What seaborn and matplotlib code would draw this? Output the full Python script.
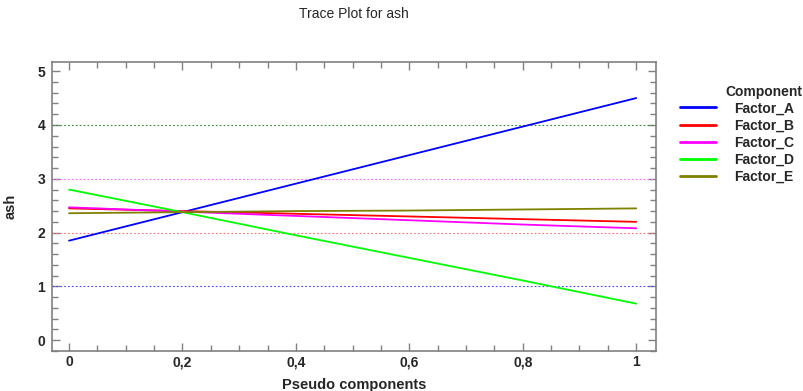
import numpy as np
import pandas as pd
import matplotlib
matplotlib.use("Agg")
import matplotlib.pyplot as plt
import seaborn as sns
from matplotlib.ticker import FuncFormatter, MultipleLocator

x_vals = [0.0, 0.2, 0.4, 0.6, 0.8, 1.0]
factor_a = [1.85, 2.38, 2.91, 3.44, 3.97, 4.50]
factor_b = [2.45, 2.40, 2.35, 2.30, 2.25, 2.20]
factor_c = [2.47, 2.39, 2.31, 2.23, 2.15, 2.08]
factor_d = [2.80, 2.38, 1.95, 1.53, 1.11, 0.68]
factor_e = [2.36, 2.38, 2.40, 2.41, 2.43, 2.45]
series_names = ["Factor_A", "Factor_B", "Factor_C", "Factor_D", "Factor_E"]
ref_levels = [4, 3, 2, 1]

colors = ["#0000ff", "#ff0000", "#ff00ff", "#00ff00", "#808000"]
ref_colors = ["#2e8b2e", "#ff66ff", "#ff7070", "#4444ff"]

rows = []
for name, vals in zip(series_names, [factor_a, factor_b, factor_c, factor_d, factor_e]):
    for xv, yv in zip(x_vals, vals):
        rows.append({"Pseudo components": xv, "ash": yv, "Component": name})
df = pd.DataFrame(rows)

sns.set_style("white")
plt.rcParams['font.family'] = ['Liberation Sans', 'DejaVu Sans']

fig = plt.figure(figsize=(8.04, 3.91), dpi=100)
ax = fig.add_axes([0.0647, 0.1023, 0.816 - 0.0647, 0.8414 - 0.1023])

for lvl, c in zip(ref_levels, ref_colors):
    ax.axhline(lvl, color=c, linestyle=(0, (1.5, 2)), linewidth=0.8, zorder=1)

sns.lineplot(data=df, x="Pseudo components", y="ash", hue="Component",
             palette=colors, hue_order=series_names, linewidth=1.3, ax=ax,
             legend=True, zorder=3)

ax.set_xlim(-0.03, 1.035)
ax.set_ylim(-0.2, 5.17)
ax.xaxis.set_major_locator(MultipleLocator(0.2))
ax.xaxis.set_minor_locator(MultipleLocator(0.05))
ax.yaxis.set_major_locator(MultipleLocator(1))
ax.yaxis.set_minor_locator(MultipleLocator(0.2))

def fmt(v, pos):
    s = f"{v:.1f}".rstrip("0").rstrip(".")
    if s == "-0":
        s = "0"
    return s.replace(".", ",")
ax.xaxis.set_major_formatter(FuncFormatter(fmt))
ax.yaxis.set_major_formatter(FuncFormatter(fmt))

ax.tick_params(which="both", direction="in", top=True, right=True, bottom=True, left=True,
               color="#808080", labelsize=10)
ax.tick_params(which="major", length=6, width=1)
ax.tick_params(which="minor", length=4, width=1)
for lab in ax.get_xticklabels() + ax.get_yticklabels():
    lab.set_fontweight("bold")
ax.tick_params(axis="x", pad=3)
ax.tick_params(axis="y", pad=5)
for sp in ax.spines.values():
    sp.set_color("#808080")
    sp.set_linewidth(1.2)

ax.set_xlabel("Pseudo components", fontsize=10.5, fontweight="bold", labelpad=6)
ax.set_ylabel("ash", fontsize=10.5, fontweight="bold", labelpad=14)
fig.text(0.44, 0.965, "Trace Plot for ash", ha="center", va="center", fontsize=10)

handles, labels = ax.get_legend_handles_labels()
ax.legend_.remove()
leg = fig.legend(handles, labels, loc="upper left",
                 bbox_to_anchor=(0.839, 0.755), frameon=False, fontsize=10,
                 handlelength=2.6, labelspacing=0.22, borderaxespad=0,
                 handletextpad=1.3)
for t in leg.get_texts():
    t.set_fontweight("bold")
for h in leg.legend_handles:
    h.set_linewidth(2)
fig.text(0.902, 0.765, "Component", fontsize=10, fontweight="bold", ha="left", va="center")

fig.savefig("out.png", dpi=100)
